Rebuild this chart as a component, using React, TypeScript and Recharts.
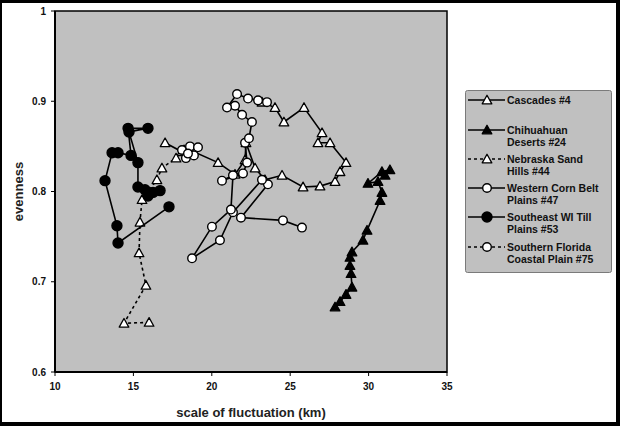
import { ScatterChart, Scatter, XAxis, YAxis, ReferenceArea, CartesianGrid, Legend } from 'recharts'

type Pt = [number, number]

// trajectories: [scale of fluctuation (km), evenness]
const cascades: Pt[] = [
  [17.02, 0.854], [18.1, 0.844], [18.61, 0.846], [20.4, 0.832], [21.48, 0.819], [22.12, 0.835],
  [22.18, 0.854], [22.76, 0.826], [23.39, 0.813], [24.48, 0.818], [25.82, 0.805], [26.9, 0.806],
  [27.86, 0.811], [28.18, 0.822], [28.56, 0.832], [27.54, 0.854], [26.77, 0.854], [27.03, 0.865],
  [25.88, 0.893], [24.6, 0.877], [24.03, 0.893], [23.2, 0.899],
]
const chihuahuan: Pt[] = [
  [27.86, 0.672], [28.18, 0.678], [28.56, 0.686], [28.94, 0.694], [28.88, 0.709], [28.81, 0.718],
  [28.81, 0.727], [28.94, 0.733], [29.64, 0.746], [29.9, 0.757], [30.73, 0.79], [30.85, 0.799],
  [30.6, 0.811], [29.96, 0.809], [30.85, 0.822], [31.36, 0.824], [31.05, 0.818],
]
const nebraska: Pt[] = [
  [16.0, 0.655], [14.4, 0.654], [15.8, 0.696], [15.36, 0.732], [15.42, 0.766], [15.55, 0.791],
  [16.5, 0.813], [16.82, 0.826], [17.72, 0.837], [18.23, 0.846],
]
const westernCornBelt: Pt[] = [
  [25.75, 0.76], [24.54, 0.768], [21.86, 0.771], [23.58, 0.808], [23.2, 0.813], [21.35, 0.777],
  [20.52, 0.746], [18.74, 0.726], [20.01, 0.761], [21.22, 0.78], [21.35, 0.818], [20.65, 0.812],
  [21.99, 0.82], [22.25, 0.832], [22.12, 0.854], [22.37, 0.859], [22.56, 0.877], [21.93, 0.885],
  [21.48, 0.895], [20.97, 0.893], [21.61, 0.908], [22.31, 0.903], [22.95, 0.901], [23.52, 0.899],
]
const southeastTill: Pt[] = [
  [17.27, 0.783], [14.02, 0.743], [13.95, 0.762], [13.19, 0.812], [13.64, 0.843], [14.02, 0.843],
  [14.85, 0.84], [14.66, 0.87], [15.93, 0.87], [14.72, 0.866], [15.29, 0.832], [15.29, 0.805],
  [15.74, 0.802], [16.25, 0.799], [16.7, 0.801], [15.93, 0.795],
]
const southernFlorida: Pt[] = [
  [18.35, 0.837], [18.1, 0.846], [18.61, 0.85], [19.12, 0.849], [18.86, 0.84], [18.48, 0.842],
]

const xTicks = [10, 15, 20, 25, 30, 35]
const yTicks = [0.6, 0.7, 0.8, 0.9, 1]

const FONT = '"Liberation Sans", Arial, sans-serif'

type Marker = 'triangle' | 'circle'

const series = [
  { name: 'Cascades #4', lines: ['Cascades #4'], data: cascades, marker: 'triangle' as Marker, filled: false, dashed: false },
  { name: 'Chihuahuan Deserts #24', lines: ['Chihuahuan', 'Deserts #24'], data: chihuahuan, marker: 'triangle' as Marker, filled: true, dashed: false },
  { name: 'Nebraska Sand Hills #44', lines: ['Nebraska Sand', 'Hills #44'], data: nebraska, marker: 'triangle' as Marker, filled: false, dashed: true },
  { name: 'Western Corn Belt Plains #47', lines: ['Western Corn Belt', 'Plains #47'], data: westernCornBelt, marker: 'circle' as Marker, filled: false, dashed: false },
  { name: 'Southeast WI Till Plains #53', lines: ['Southeast WI Till', 'Plains #53'], data: southeastTill, marker: 'circle' as Marker, filled: true, dashed: false },
  { name: 'Southern Florida Coastal Plain #75', lines: ['Southern Florida', 'Coastal Plain #75'], data: southernFlorida, marker: 'circle' as Marker, filled: false, dashed: true },
]

function drawMarker(kind: Marker, filled: boolean, cx: number, cy: number, key?: string) {
  const fill = filled ? '#000' : '#fff'
  if (kind === 'circle') {
    return <circle key={key} cx={cx} cy={cy} r={filled ? 5 : 4.3} fill={fill} stroke="#000" strokeWidth={1.4} />
  }
  const s = 4.8
  return (
    <path
      key={key}
      d={`M${cx},${cy - s}L${cx + s},${cy + s * 0.8}L${cx - s},${cy + s * 0.8}Z`}
      fill={fill}
      stroke="#000"
      strokeWidth={1.3}
      strokeLinejoin="round"
    />
  )
}

const makeShape = (kind: Marker, filled: boolean) => (props: any) => {
  const { cx, cy } = props
  if (cx == null || cy == null) return <g />
  return drawMarker(kind, filled, cx, cy)
}

// legend rows: y of first text line inside the box
const legendRowY = [10, 40, 69, 98, 127, 157]

function renderLegend() {
  return (
    <svg width={147} height={183} style={{ display: 'block' }}>
      <rect x={0.5} y={0.5} width={146} height={182} rx={2} fill="#c0c0c0" stroke="#7a7a7a" />
      {series.map((s, i) => {
        const y = legendRowY[i]
        return (
          <g key={s.name}>
            <line x1={3} x2={40} y1={y} y2={y} stroke="#000" strokeWidth={1.6} strokeDasharray={s.dashed ? '3 3' : undefined} />
            {drawMarker(s.marker, s.filled, 22, y)}
            {s.lines.map((t, j) => (
              <text key={t} x={42} y={y + j * 12.5} dy="0.35em" fontSize={10.5} fontWeight="bold" fontFamily={FONT} fill="#111">
                {t}
              </text>
            ))}
          </g>
        )
      })}
    </svg>
  )
}

export default function App() {
  return (
    <div style={{ position: 'absolute', left: 0, top: 0, width: 620, height: 426, background: '#fff', fontFamily: FONT }}>
      <ScatterChart width={620} height={426} margin={{ top: 11, right: 173, bottom: 0, left: 0 }}>
        <CartesianGrid horizontal={false} vertical={false} fill="#c0c0c0" fillOpacity={1} />
        <XAxis
          type="number"
          dataKey="x"
          domain={[10, 35]}
          ticks={xTicks}
          height={54}
          stroke="#000"
          axisLine={{ stroke: '#000', strokeWidth: 2 }}
          tickLine={{ stroke: '#000' }}
          tickSize={4}
          tickMargin={7}
          tick={{ fontSize: 10, fill: '#111', fontWeight: 'bold', fontFamily: FONT }}
          label={{ value: 'scale of fluctuation (km)', position: 'insideBottom', offset: 9, style: { fontSize: 13, fontWeight: 'bold', fill: '#222', fontFamily: FONT } }}
        />
        <YAxis
          type="number"
          dataKey="y"
          domain={[0.6, 1]}
          ticks={yTicks}
          width={55}
          axisLine={{ stroke: '#000', strokeWidth: 2 }}
          tickLine={{ stroke: '#000' }}
          tickSize={4}
          tickMargin={5}
          tickFormatter={(v: number) => (v === 1 ? '1' : v.toFixed(1))}
          tick={{ fontSize: 10, fill: '#111', fontWeight: 'bold', fontFamily: FONT }}
          label={{ value: 'evenness', angle: -90, position: 'insideLeft', offset: 18, style: { textAnchor: 'middle', fontSize: 13, fontWeight: 'bold', fill: '#222', fontFamily: FONT } }}
        />
        <ReferenceArea x1={10} x2={35} y1={0.6} y2={1} fill="none" fillOpacity={0} stroke="#000" strokeWidth={1.5} />
        {series.map((s) => (
          <Scatter
            key={s.name}
            name={s.name}
            data={s.data.map(([x, y]) => ({ x, y }))}
            fill="#000"
            line={{ stroke: '#000', strokeWidth: 1.6, strokeDasharray: s.dashed ? '3 3' : undefined }}
            lineType="joint"
            shape={makeShape(s.marker, s.filled)}
            isAnimationActive={false}
          />
        ))}
        <Legend
          layout="vertical"
          align="center"
          verticalAlign="middle"
          wrapperStyle={{ left: 465, top: 90, width: 147, height: 183 }}
          content={renderLegend}
        />
      </ScatterChart>
      <div
        style={{
          position: 'absolute', left: 0, top: 0, width: 620, height: 426, boxSizing: 'border-box',
          borderTop: '3px solid #000', borderLeft: '2px solid #000', borderRight: '4px solid #000', borderBottom: '4px solid #000',
          pointerEvents: 'none',
        }}
      />
    </div>
  )
}
